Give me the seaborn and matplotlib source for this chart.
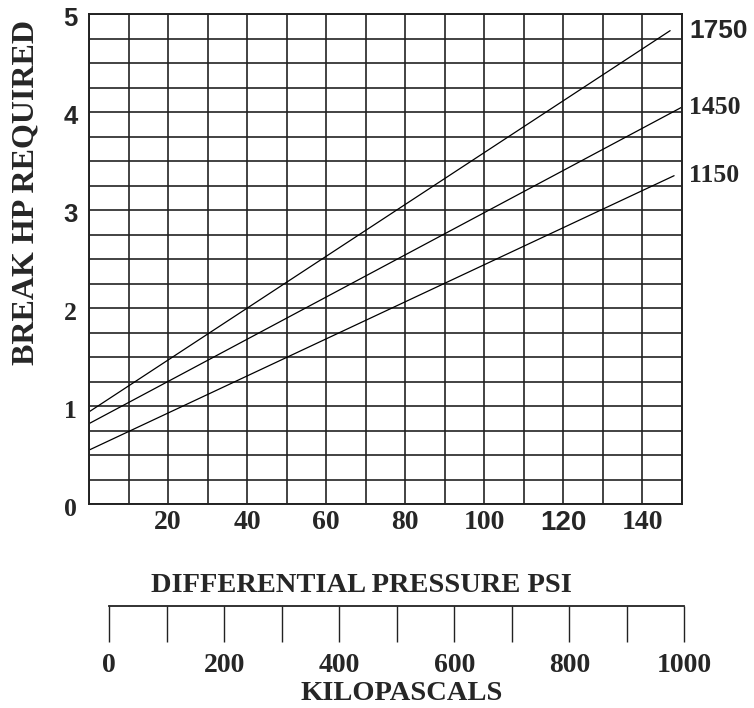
import matplotlib
matplotlib.use("Agg")
import matplotlib.pyplot as plt
from matplotlib.transforms import ScaledTranslation
import seaborn as sns
import pandas as pd

# ---- values ----
rpm_labels = ["1750", "1450", "1150"]
psi_1750 = [0, 147]
hp_1750 = [0.94, 4.83]
psi_1450 = [0, 150]
hp_1450 = [0.82, 4.05]
psi_1150 = [0, 148]
hp_1150 = [0.55, 3.35]

psi_ticks = [20, 40, 60, 80, 100, 120, 140]
hp_ticks = [0, 1, 2, 3, 4, 5]
kpa_ticks = [0, 200, 400, 600, 800, 1000]

SERIF = "Liberation Serif"
SANS = "Liberation Sans"

sns.set_style("white")
plt.rcParams["font.family"] = [SERIF, "DejaVu Sans"]
plt.rcParams["font.weight"] = "bold"

df = pd.concat([
    pd.DataFrame({"psi": psi_1750, "hp": hp_1750, "rpm": "1750"}),
    pd.DataFrame({"psi": psi_1450, "hp": hp_1450, "rpm": "1450"}),
    pd.DataFrame({"psi": psi_1150, "hp": hp_1150, "rpm": "1150"}),
], ignore_index=True)

W, H = 754, 708
fig = plt.figure(figsize=(W / 100, H / 100), dpi=100)

# main chart: pixel box 89..682 x 14..504
ax = fig.add_axes([89 / W, (H - 504) / H, (682 - 89) / W, (504 - 14) / H])
sns.lineplot(data=df, x="psi", y="hp", hue="rpm", hue_order=rpm_labels,
             palette=["black"] * 3, linewidth=0.9, legend=False,
             estimator=None, sort=False, ax=ax)

ax.set_xlim(0, 150)
ax.set_ylim(0, 5)

# grid every 10 psi / 0.25 hp, labels only on the printed values
xgrid = list(range(0, 151, 10))
ax.set_xticks(xgrid)
ax.set_xticklabels([str(v) if v in psi_ticks else "" for v in xgrid])
ygrid = [i * 0.25 for i in range(21)]
ax.set_yticks(ygrid)
ax.set_yticklabels([str(int(v)) if v in hp_ticks else "" for v in ygrid])
ax.set_xticks([10, 30, 70, 110], minor=True)

ax.grid(True, which="major", color="#222222", linewidth=1.2)
ax.tick_params(axis="both", which="major", length=0)
ax.tick_params(axis="x", which="major", pad=4.5, labelsize=20)
ax.tick_params(axis="y", which="major", pad=13.5, labelsize=18.5)
ax.tick_params(axis="x", which="minor", length=4, width=1.2, color="#222222")
for sp in ax.spines.values():
    sp.set_visible(True)
    sp.set_color("#222222")
    sp.set_linewidth(1.4)

# the printed hp numbers sit a little below their grid lines
shift = ScaledTranslation(0, -3 / 100, fig.dpi_scale_trans)
for lab in ax.get_yticklabels():
    lab.set_horizontalalignment("center")
    lab.set_transform(lab.get_transform() + shift)
    if lab.get_text() in ("3", "4", "5"):
        lab.set_fontfamily(SANS)
for lab in ax.get_xticklabels():
    if lab.get_text() == "120":
        lab.set_fontfamily(SANS)

# speed labels at the right end of each line
for r in rpm_labels:
    end = df[df["rpm"] == r].iloc[-1]
    ax.annotate(r, xy=(1, end["hp"]), xycoords=("axes fraction", "data"),
                xytext=(7, 0), textcoords="offset pixels",
                ha="left", va="center", fontweight="bold",
                fontsize=19 if r == "1750" else 18.5,
                family=SANS if r == "1750" else SERIF, annotation_clip=False)

ax.set_ylabel("BREAK HP REQUIRED", fontsize=23, fontweight="bold")
ax.yaxis.label.set_verticalalignment("center")
ax.yaxis.set_label_coords(26 / W, (H - 192) / H, transform=fig.transFigure)
ax.set_xlabel("DIFFERENTIAL PRESSURE PSI", fontsize=20.5, fontweight="bold")
ax.xaxis.label.set_verticalalignment("center")
ax.xaxis.set_label_coords(361 / W, (H - 585) / H, transform=fig.transFigure)

# kilopascal scale drawn underneath
kax = fig.add_axes([109.3 / W, (H - 606) / H, 575 / W, 0.01])
kax.patch.set_alpha(0)
kax.set_xlim(0, 1000)
kax.set_yticks([])
kgrid = list(range(0, 1001, 100))
kax.set_xticks(kgrid)
kax.set_xticklabels([str(v) if v in kpa_ticks else "" for v in kgrid])
kax.tick_params(axis="x", length=26, width=1.0, color="#222222",
                direction="out", pad=7.5, labelsize=20, bottom=True)
for name, sp in kax.spines.items():
    sp.set_visible(name == "bottom")
kax.spines["bottom"].set_color("#222222")
kax.spines["bottom"].set_linewidth(1.3)
kax.set_xlabel("KILOPASCALS", fontsize=20.5, fontweight="bold")
kax.xaxis.label.set_verticalalignment("center")
kax.xaxis.set_label_coords(402 / W, (H - 693) / H, transform=fig.transFigure)

fig.savefig("out.png", dpi=100)
